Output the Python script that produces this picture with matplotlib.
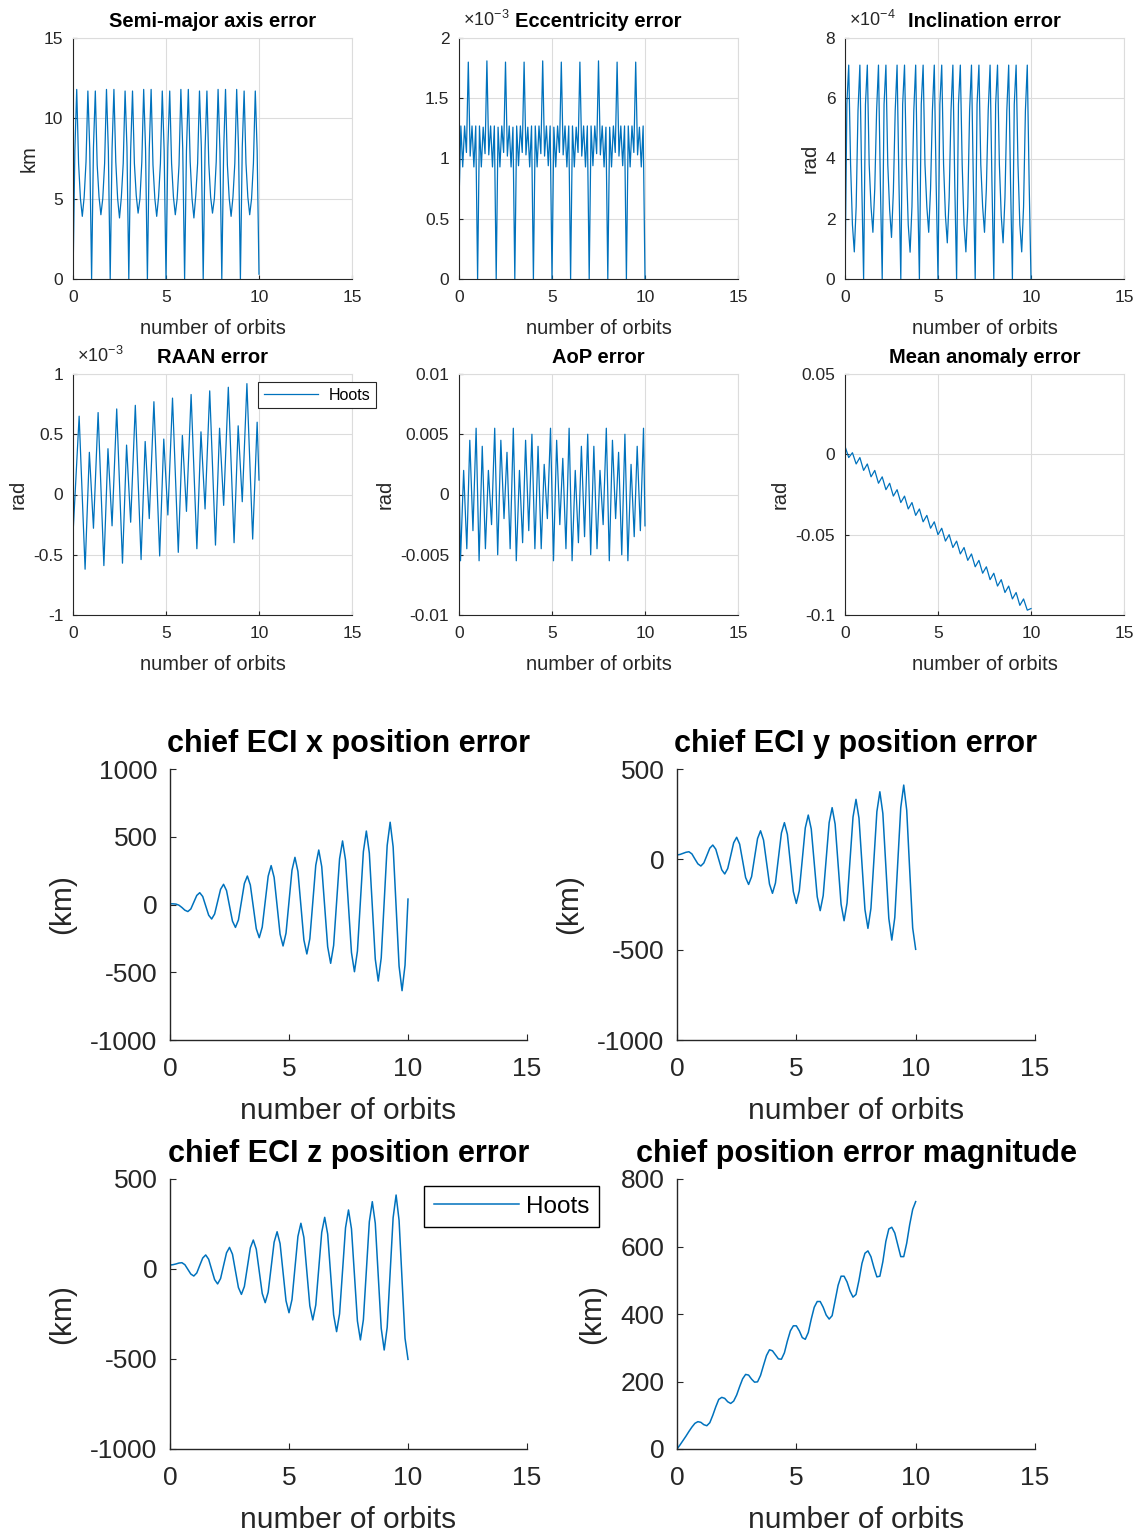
import numpy as np
import matplotlib
matplotlib.use("Agg")
import matplotlib.pyplot as plt
from matplotlib.ticker import FuncFormatter

plt.rcParams['font.family'] = ['Liberation Sans', 'DejaVu Sans']
plt.rcParams['mathtext.default'] = 'regular'

BLUE = '#0072BD'
DARK = '#262626'
GRID = '#dcdcdc'
W, H = 1141, 1536

# ---------------- orbital element errors ----------------
# sampled every 0.1 orbit
orbits_fine = np.linspace(0, 10, 101)

sma_err = [  # km
    0, 8.0, 11.8, 7.2, 5.0, 3.9, 5.1, 7.3, 11.7, 8.1,
    0, 8.2, 11.7, 7.1, 5.1, 4.0, 5.0, 7.2, 11.8, 8.0,
    0, 8.1, 11.8, 7.3, 5.0, 3.8, 5.1, 7.2, 11.7, 8.2,
    0, 8.0, 11.7, 7.2, 5.2, 4.1, 5.0, 7.3, 11.8, 8.1,
    0, 8.1, 11.8, 7.1, 5.0, 3.9, 5.1, 7.2, 11.7, 8.0,
    0, 8.2, 11.7, 7.2, 5.1, 4.0, 5.0, 7.1, 11.8, 8.1,
    0, 8.0, 11.8, 7.3, 5.0, 3.8, 5.2, 7.2, 11.7, 8.2,
    0, 8.1, 11.7, 7.2, 5.1, 4.1, 5.0, 7.3, 11.8, 8.0,
    0, 8.0, 11.8, 7.1, 5.0, 3.9, 5.1, 7.2, 11.8, 8.1,
    0, 8.2, 11.7, 7.2, 5.1, 4.0, 5.0, 7.2, 11.7, 8.0,
    0.3]

ecc_err = np.array([  # x 1e-3
    0.64, 1.27, 0.93, 1.27, 1.05, 1.80, 1.02, 1.27, 0.93, 1.27,
    0, 1.27, 0.93, 1.26, 1.04, 1.81, 1.03, 1.27, 0.93, 1.27,
    0, 1.26, 0.93, 1.27, 1.05, 1.80, 1.02, 1.27, 0.93, 1.26,
    0, 1.27, 0.94, 1.27, 1.05, 1.80, 1.03, 1.26, 0.93, 1.27,
    0, 1.27, 0.93, 1.27, 1.04, 1.81, 1.02, 1.27, 0.94, 1.27,
    0, 1.26, 0.93, 1.27, 1.05, 1.80, 1.03, 1.27, 0.93, 1.27,
    0, 1.27, 0.93, 1.26, 1.05, 1.80, 1.02, 1.27, 0.93, 1.27,
    0, 1.27, 0.94, 1.27, 1.04, 1.81, 1.03, 1.27, 0.93, 1.26,
    0, 1.26, 0.93, 1.27, 1.05, 1.80, 1.02, 1.27, 0.94, 1.27,
    0, 1.27, 0.93, 1.27, 1.05, 1.80, 1.03, 1.26, 0.93, 1.27,
    0]) * 1e-3

inc_err = np.array([  # x 1e-4
    0, 5.8, 7.1, 3.8, 1.8, 0.90, 2.4, 5.6, 7.1, 3.2,
    0, 5.8, 7.1, 3.8, 2.4, 1.55, 3.0, 5.6, 7.1, 3.2,
    0, 5.8, 7.1, 3.8, 2.3, 1.38, 2.9, 5.6, 7.1, 3.2,
    0, 5.8, 7.1, 3.8, 1.8, 0.89, 2.4, 5.6, 7.1, 3.2,
    0, 5.8, 7.1, 3.8, 2.4, 1.55, 3.0, 5.6, 7.1, 3.2,
    0, 5.8, 7.1, 3.8, 2.1, 1.20, 2.7, 5.6, 7.1, 3.2,
    0, 5.8, 7.1, 3.8, 1.8, 0.90, 2.4, 5.6, 7.1, 3.2,
    0, 5.8, 7.1, 3.8, 2.4, 1.55, 3.0, 5.6, 7.1, 3.2,
    0, 5.8, 7.1, 3.8, 2.1, 1.20, 2.7, 5.6, 7.1, 3.2,
    0, 5.8, 7.1, 3.8, 1.8, 0.90, 2.4, 5.6, 7.1, 3.2,
    0]) * 1e-4

# RAAN error, turning points
raan_t = [0.0, 0.33, 0.65, 0.88, 1.1, 1.35, 1.66, 1.88, 2.1, 2.35, 2.66, 2.88,
          3.1, 3.35, 3.66, 3.88, 4.1, 4.35, 4.66, 4.88, 5.1, 5.35, 5.66, 5.88,
          6.1, 6.35, 6.66, 6.88, 7.1, 7.35, 7.66, 7.88, 8.1, 8.35, 8.66, 8.88,
          9.1, 9.35, 9.66, 9.9, 10.0]
raan_err = np.array([
    -0.33, 0.65, -0.62, 0.35, -0.28, 0.68, -0.59, 0.38, -0.26, 0.71, -0.57, 0.41,
    -0.23, 0.74, -0.54, 0.44, -0.20, 0.77, -0.51, 0.46, -0.17, 0.80, -0.48, 0.49,
    -0.14, 0.83, -0.45, 0.52, -0.12, 0.86, -0.42, 0.55, -0.09, 0.89, -0.40, 0.57,
    -0.06, 0.92, -0.37, 0.60, 0.12]) * 1e-3

# AoP error, turning points
aop_t = [0.0, 0.08, 0.25, 0.42, 0.58, 0.75, 0.92,
         1.08, 1.25, 1.42, 1.58, 1.75, 1.92,
         2.08, 2.25, 2.42, 2.58, 2.75, 2.92,
         3.08, 3.25, 3.42, 3.58, 3.75, 3.92,
         4.08, 4.25, 4.42, 4.58, 4.75, 4.92,
         5.08, 5.25, 5.42, 5.58, 5.75, 5.92,
         6.08, 6.25, 6.42, 6.58, 6.75, 6.92,
         7.08, 7.25, 7.42, 7.58, 7.75, 7.92,
         8.08, 8.25, 8.42, 8.58, 8.75, 8.92,
         9.08, 9.25, 9.42, 9.58, 9.75, 9.92, 10.0]
aop_err = np.array([
    2.0, -5.5, 2.0, -4.5, 4.5, -3.0, 5.5,
    -5.5, 4.0, -4.5, 2.0, -2.5, 5.5,
    -5.0, 4.5, -2.0, 3.5, -4.5, 5.5,
    -5.5, 2.0, -4.0, 4.5, -3.0, 5.0,
    -4.5, 4.0, -4.5, 2.5, -2.0, 5.5,
    -5.5, 4.5, -2.5, 3.0, -4.5, 5.5,
    -5.5, 2.0, -4.0, 4.0, -3.5, 5.0,
    -5.0, 4.0, -4.5, 2.0, -2.5, 5.5,
    -5.5, 4.5, -2.0, 3.5, -5.0, 5.0,
    -5.5, 2.5, -3.5, 4.0, -3.0, 5.5, -2.6]) * 1e-3

# mean anomaly error, every 0.2 orbit
orbits_mid = np.linspace(0, 10, 51)
ma_err = [
    0.005, -0.002, 0.001, -0.006, -0.002, -0.010, -0.006, -0.014, -0.010, -0.018,
    -0.014, -0.022, -0.018, -0.026, -0.022, -0.030, -0.026, -0.034, -0.030, -0.038,
    -0.034, -0.042, -0.038, -0.046, -0.042, -0.050, -0.046, -0.054, -0.050, -0.058,
    -0.054, -0.062, -0.058, -0.066, -0.062, -0.070, -0.066, -0.074, -0.070, -0.078,
    -0.074, -0.082, -0.078, -0.086, -0.082, -0.090, -0.086, -0.094, -0.090, -0.097,
    -0.096]

# ---------------- chief ECI position errors (km), every 1/8 orbit ----------------
orbits_eci = np.linspace(0, 10, 81)

eci_x_err = [
    5, 5, 3, -5, -22, -42, -52, -33,
    17, 67, 87, 59, -10, -79, -107, -70,
    21, 112, 149, 103, -10, -123, -169, -114,
    20, 155, 210, 144, -17, -179, -245, -167,
    21, 209, 287, 200, -9, -219, -306, -211,
    21, 253, 348, 244, -8, -261, -365, -253,
    18, 290, 402, 280, -16, -312, -434, -302,
    17, 337, 469, 328, -13, -355, -496, -344,
    23, 390, 542, 380, -11, -403, -565, -394,
    21, 436, 607, 426, -14, -455, -636, -448,
    40]

eci_y_err = [
    24, 27, 33, 39, 42, 30, 2, -25,
    -37, -20, 21, 62, 79, 56, -1, -58,
    -81, -51, 20, 92, 122, 84, -8, -101,
    -139, -96, 10, 115, 158, 107, -15, -137,
    -188, -131, 8, 146, 203, 138, -20, -179,
    -244, -173, 0, 174, 245, 168, -20, -207,
    -284, -201, 1, 203, 286, 195, -27, -249,
    -340, -242, -4, 234, 332, 228, -25, -278,
    -382, -272, -4, 264, 374, 254, -37, -327,
    -447, -322, -18, 286, 411, 272, -60, -380,
    -498]

eci_z_err = [
    22, 24, 28, 33, 35, 24, -2, -28,
    -39, -22, 20, 61, 78, 54, -3, -59,
    -83, -53, 19, 90, 120, 82, -11, -103,
    -141, -97, 10, 117, 161, 110, -13, -136,
    -187, -129, 10, 149, 207, 141, -18, -177,
    -243, -170, 6, 181, 254, 176, -15, -205,
    -283, -200, 2, 204, 287, 194, -31, -255,
    -348, -249, -10, 229, 328, 223, -33, -289,
    -394, -282, -10, 262, 374, 254, -38, -330,
    -450, -324, -20, 285, 411, 270, -60, -385,
    -502]

mag_err = [
    0, 12, 25, 38, 52, 65, 76, 81,
    79, 72, 69, 78, 100, 125, 147, 153,
    150, 140, 135, 142, 160, 185, 208, 221,
    219, 207, 198, 199, 218, 248, 277, 294,
    291, 279, 267, 266, 285, 320, 350, 365,
    365, 350, 330, 325, 345, 385, 420, 437,
    437, 420, 397, 385, 395, 440, 485, 512,
    512, 495, 468, 450, 458, 500, 550, 580,
    587, 570, 538, 510, 512, 555, 615, 652,
    657, 640, 605, 570, 570, 610, 665, 710,
    733]


def fmt(v):
    s = f"{round(v, 6):g}"
    return '0' if s == '-0' else s


fig = plt.figure(figsize=(W / 100, H / 100), dpi=100)


def axes_px(l, t, r, b):
    return fig.add_axes([l / W, 1 - b / H, (r - l) / W, (b - t) / H])


def style_top(ax, title, ylabel, yticks, scale=1, exp=None):
    ax.set_xlim(0, 15)
    ax.set_xticks([0, 5, 10, 15])
    ax.set_ylim(yticks[0], yticks[-1])
    ax.set_yticks(yticks)
    ax.yaxis.set_major_formatter(FuncFormatter(lambda v, p: fmt(v * scale)))
    ax.grid(True, color=GRID, lw=0.8)
    ax.set_axisbelow(True)
    for s in ['top', 'right']:
        ax.spines[s].set_color(GRID)
    for s in ['left', 'bottom']:
        ax.spines[s].set_color(DARK)
    ax.tick_params(direction='in', length=3, colors=DARK, labelsize=12.5, pad=7)
    ax.tick_params(axis='x', pad=8)
    ax.set_title(title, fontsize=14.5, fontweight='bold', pad=8)
    ax.set_xlabel('number of orbits', fontsize=14.5, color=DARK, labelpad=10)
    if ylabel:
        ax.set_ylabel(ylabel, fontsize=14.5, color=DARK)
    if exp:
        ax.text(0.015, 1.05, exp, transform=ax.transAxes, fontsize=13,
                ha='left', va='baseline', color=DARK)


def style_bottom(ax, title, yticks):
    ax.set_xlim(0, 15)
    ax.set_xticks([0, 5, 10, 15])
    ax.set_ylim(yticks[0], yticks[-1])
    ax.set_yticks(yticks)
    ax.yaxis.set_major_formatter(FuncFormatter(lambda v, p: fmt(v)))
    for s in ['top', 'right']:
        ax.spines[s].set_visible(False)
    for s in ['left', 'bottom']:
        ax.spines[s].set_color(DARK)
        ax.spines[s].set_linewidth(1.0)
    ax.tick_params(direction='in', length=4, colors=DARK, labelsize=19, pad=9)
    ax.tick_params(axis='x', pad=12)
    ax.set_title(title, fontsize=22, fontweight='bold', pad=12)
    ax.set_xlabel('number of orbits', fontsize=21.5, color=DARK, labelpad=12)
    ax.set_ylabel('(km)', fontsize=21.5, color=DARK, labelpad=10)


lw_top = 0.9

ax = axes_px(73, 38, 352, 279)
ax.plot(orbits_fine, sma_err, color=BLUE, lw=lw_top)
style_top(ax, 'Semi-major axis error', 'km', [0, 5, 10, 15])

ax = axes_px(459, 38, 738, 279)
ax.plot(orbits_fine, ecc_err, color=BLUE, lw=lw_top)
style_top(ax, 'Eccentricity error', None, [0, 0.5e-3, 1e-3, 1.5e-3, 2e-3],
          scale=1e3, exp=r'$\times10^{-3}$')

ax = axes_px(845, 38, 1124, 279)
ax.plot(orbits_fine, inc_err, color=BLUE, lw=lw_top)
style_top(ax, 'Inclination error', 'rad', [0, 2e-4, 4e-4, 6e-4, 8e-4],
          scale=1e4, exp=r'$\times10^{-4}$')

ax = axes_px(73, 374, 352, 615)
line, = ax.plot(raan_t, raan_err, color=BLUE, lw=lw_top, label='Hoots')
style_top(ax, 'RAAN error', 'rad', [-1e-3, -0.5e-3, 0, 0.5e-3, 1e-3],
          scale=1e3, exp=r'$\times10^{-3}$')
leg = ax.legend(loc='upper left', bbox_to_anchor=(258 / W, 1 - 382 / H),
                bbox_transform=fig.transFigure, fontsize=11.5, fancybox=False,
                edgecolor=DARK, framealpha=1, borderaxespad=0, borderpad=0.35,
                handlelength=3.4, handletextpad=0.7)
leg.get_frame().set_linewidth(0.8)

ax = axes_px(459, 374, 738, 615)
ax.plot(aop_t, aop_err, color=BLUE, lw=lw_top)
style_top(ax, 'AoP error', 'rad', [-0.01, -0.005, 0, 0.005, 0.01])

ax = axes_px(845, 374, 1124, 615)
ax.plot(orbits_mid, ma_err, color=BLUE, lw=lw_top)
style_top(ax, 'Mean anomaly error', 'rad', [-0.1, -0.05, 0, 0.05])

lw_bot = 1.1

ax = axes_px(170, 769, 527, 1040)
ax.plot(orbits_eci, eci_x_err, color=BLUE, lw=lw_bot)
style_bottom(ax, 'chief ECI x position error', [-1000, -500, 0, 500, 1000])

ax = axes_px(677, 769, 1035, 1040)
ax.plot(orbits_eci, eci_y_err, color=BLUE, lw=lw_bot)
style_bottom(ax, 'chief ECI y position error', [-1000, -500, 0, 500])

ax = axes_px(170, 1179, 527, 1449)
ax.plot(orbits_eci, eci_z_err, color=BLUE, lw=lw_bot, label='Hoots')
style_bottom(ax, 'chief ECI z position error', [-1000, -500, 0, 500])
leg = ax.legend(loc='upper left', bbox_to_anchor=(424 / W, 1 - 1186 / H),
                bbox_transform=fig.transFigure, fontsize=17.5, fancybox=False,
                edgecolor='black', framealpha=1, borderaxespad=0, borderpad=0.4,
                handlelength=3.5, handletextpad=0.3)
leg.get_frame().set_linewidth(1.0)

ax = axes_px(677, 1179, 1035, 1449)
ax.plot(orbits_eci, mag_err, color=BLUE, lw=lw_bot)
style_bottom(ax, 'chief position error magnitude', [0, 200, 400, 600, 800])

fig.savefig('out.png', dpi=100)
